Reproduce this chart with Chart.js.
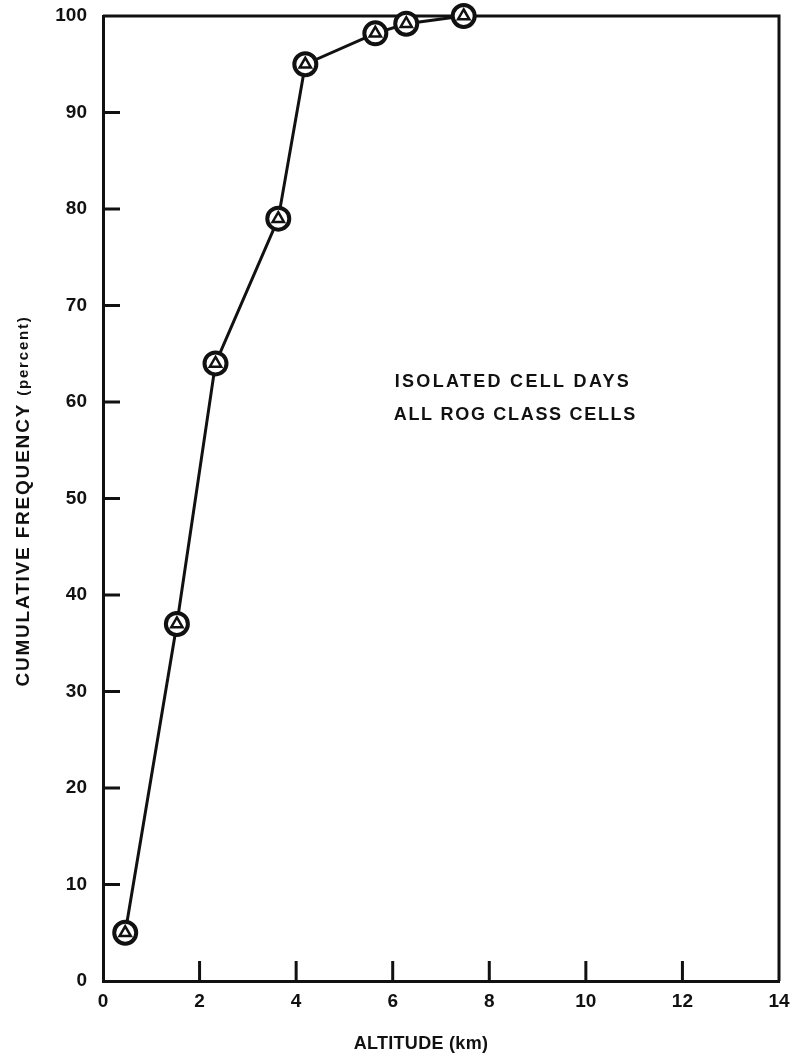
<!DOCTYPE html>
<html>
<head>
<meta charset="utf-8">
<script src="https://cdn.jsdelivr.net/npm/chart.js@4"></script>
<style>
  html, body { margin: 0; padding: 0; background: #fff; }
  canvas { display: block; }
</style>
</head>
<body>
<canvas id="chart" width="794" height="1058"></canvas>
<script>
// Cumulative frequency of cell altitude, isolated cell days
const altitude = [0.46, 1.53, 2.33, 3.63, 4.19, 5.64, 6.28, 7.47];
const frequency = [5, 37, 64, 79, 95, 98.2, 99.2, 100];
const xTicks = [0, 2, 4, 6, 8, 10, 12, 14];
const yTicks = [0, 10, 20, 30, 40, 50, 60, 70, 80, 90, 100];
const noteLines = ['ISOLATED CELL DAYS', 'ALL ROG CLASS CELLS'];

const INK = '#111';
const FONT = '"Liberation Sans", Arial, sans-serif';

const points = altitude.map((x, i) => ({ x, y: frequency[i] }));

// frame, inward tick marks, axis titles and the note
const decorations = {
  id: 'decorations',
  beforeDatasetsDraw(chart) {
    const { ctx, chartArea: a, scales: { x, y } } = chart;
    ctx.save();
    ctx.strokeStyle = INK;
    ctx.lineWidth = 3;
    ctx.lineCap = 'butt';
    ctx.beginPath();
    ctx.moveTo(a.left, a.top); ctx.lineTo(a.right, a.top); ctx.lineTo(a.right, a.bottom);
    ctx.stroke();
    ctx.beginPath();
    yTicks.slice(1, -1).forEach((v) => {
      const py = y.getPixelForValue(v);
      ctx.moveTo(a.left, py); ctx.lineTo(a.left + 17, py);
    });
    xTicks.slice(1, -1).forEach((v) => {
      const px = x.getPixelForValue(v);
      ctx.moveTo(px, a.bottom); ctx.lineTo(px, a.bottom - 20);
    });
    ctx.stroke();
    ctx.restore();
  },
  afterDraw(chart) {
    const { ctx, scales: { x, y } } = chart;
    ctx.save();
    ctx.fillStyle = INK;
    ctx.textBaseline = 'middle';

    // y title, with the unit in a smaller face
    ctx.translate(24, 501);
    ctx.rotate(-Math.PI / 2);
    ctx.letterSpacing = '1.8px';
    const main = 'CUMULATIVE FREQUENCY ';
    const unit = '(percent)';
    ctx.font = `bold 19px ${FONT}`;
    const w1 = ctx.measureText(main).width;
    ctx.font = `bold 15px ${FONT}`;
    const w2 = ctx.measureText(unit).width;
    const sx = -(w1 + w2) / 2;
    ctx.textAlign = 'left';
    ctx.font = `bold 19px ${FONT}`;
    ctx.fillText(main, sx, 0);
    ctx.font = `bold 15px ${FONT}`;
    ctx.fillText(unit, sx + w1, 0);
    ctx.setTransform(1, 0, 0, 1, 0, 0);

    // x title
    ctx.letterSpacing = '0.3px';
    ctx.textAlign = 'center';
    ctx.font = `bold 18px ${FONT}`;
    ctx.fillText('ALTITUDE (km)', 421, 1044);

    // note
    ctx.font = `bold 18px ${FONT}`;
    ctx.letterSpacing = '2.3px';
    ctx.fillText(noteLines[0], x.getPixelForValue(8.49), y.getPixelForValue(62.1));
    ctx.letterSpacing = '1.7px';
    ctx.fillText(noteLines[1], x.getPixelForValue(8.54), y.getPixelForValue(58.6));
    ctx.restore();
  },
};

new Chart(document.getElementById('chart'), {
  type: 'scatter',
  data: {
    datasets: [
      {
        data: points,
        order: 1,
        showLine: true,
        borderColor: INK,
        borderWidth: 3,
        tension: 0,
        pointStyle: 'circle',
        pointRadius: 11,
        pointBorderWidth: 4,
        pointBackgroundColor: '#fff',
        pointBorderColor: INK,
        clip: false,
      },
      {
        data: points,
        order: 0,
        showLine: false,
        pointStyle: 'triangle',
        pointRadius: 6.5,
        pointBorderWidth: 2.5,
        pointBackgroundColor: '#fff',
        pointBorderColor: INK,
        clip: false,
      },
    ],
  },
  options: {
    responsive: false,
    animation: false,
    events: [],
    layout: { padding: { top: 16, right: 14, left: 0, bottom: 0 } },
    plugins: { legend: { display: false }, tooltip: { enabled: false } },
    scales: {
      x: {
        type: 'linear',
        min: 0,
        max: 14,
        afterBuildTicks: (s) => { s.ticks = xTicks.map((v) => ({ value: v })); },
        afterFit: (s) => { s.height = 77; s.paddingLeft = 0; s.paddingRight = 0; },
        grid: { display: false, drawTicks: false },
        border: { display: true, color: INK, width: 3 },
        ticks: { padding: 9, color: INK, font: { family: FONT, size: 19, weight: 'bold' }, maxRotation: 0 },
      },
      y: {
        type: 'linear',
        min: 0,
        max: 100,
        afterBuildTicks: (s) => { s.ticks = yTicks.map((v) => ({ value: v })); },
        afterFit: (s) => { s.width = 103; s.paddingTop = 0; s.paddingBottom = 0; },
        grid: { display: false, drawTicks: false },
        border: { display: true, color: INK, width: 3 },
        ticks: { padding: 16, color: INK, font: { family: FONT, size: 19, weight: 'bold' } },
      },
    },
  },
  plugins: [decorations],
});
</script>
</body>
</html>
